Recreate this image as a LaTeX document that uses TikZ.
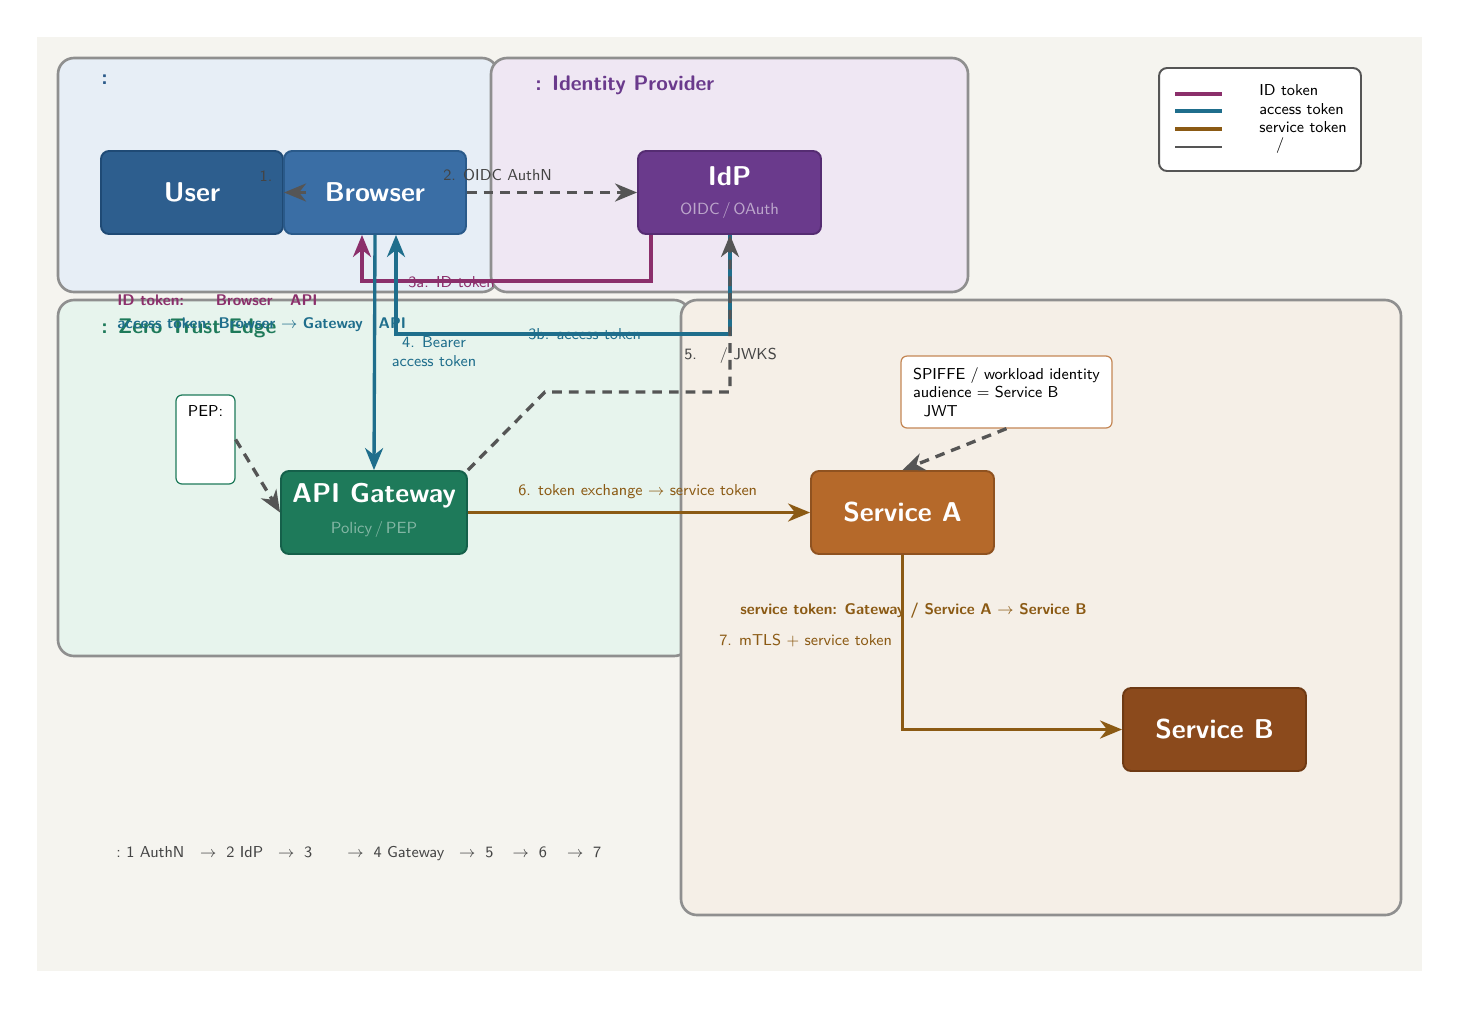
\documentclass[tikz,border=0pt]{standalone}
\usepackage{fontspec}
\usetikzlibrary{arrows.meta}
\definecolor{canvas}{HTML}{F5F4EF}
\definecolor{gUser}{HTML}{E7EEF6}
\definecolor{gIdp}{HTML}{EFE7F3}
\definecolor{gZt}{HTML}{E7F4ED}
\definecolor{gSvc}{HTML}{F5EFE7}
\definecolor{gBorder}{HTML}{8F8F8F}
\definecolor{cUser}{HTML}{2D5E8E}
\definecolor{cUserB}{HTML}{1F4A75}
\definecolor{cBrowser}{HTML}{3A6EA5}
\definecolor{cBrowserB}{HTML}{2A5A8A}
\definecolor{cIdp}{HTML}{6A3A8C}
\definecolor{cIdpB}{HTML}{552C72}
\definecolor{cGw}{HTML}{1E7A5A}
\definecolor{cGwB}{HTML}{15604A}
\definecolor{cSa}{HTML}{B5692A}
\definecolor{cSaB}{HTML}{8F5220}
\definecolor{cSb}{HTML}{8B4A1C}
\definecolor{cSbB}{HTML}{6E3A14}
\definecolor{tPurple}{HTML}{8B2F6B}
\definecolor{tTeal}{HTML}{1F6E8C}
\definecolor{tBrown}{HTML}{8B5A14}
\definecolor{tGray}{HTML}{555555}
\definecolor{txtGray}{HTML}{444444}
\definecolor{tUserTitle}{HTML}{2B5A8A}
\definecolor{tIdpTitle}{HTML}{6A3A8C}
\definecolor{tZtTitle}{HTML}{1E7A5A}
\newcommand{\smallfs}{\fontsize{9}{10.8}\selectfont}
\newcommand{\boldfs}{\fontsize{8.8}{10.6}\selectfont}
\newcommand{\bigfs}{\fontsize{15.5}{18}\selectfont}
\newcommand{\titlefs}{\fontsize{12}{14}\selectfont}
\tikzset{
  group/.style={draw=gBorder, line width=1.5pt, rounded corners=0.32cm},
  box/.style={rectangle, rounded corners=0.16cm, line width=1.1pt, minimum width=3.64cm, minimum height=1.66cm, text=white, font=\sffamily\bfseries\bigfs, inner sep=2pt},
  sub/.style={font=\sffamily\fontsize{9.2}{11}\selectfont, inner sep=0pt},
  note/.style={rectangle, rounded corners=0.12cm, fill=white, line width=0.7pt},
  lbl/.style={font=\sffamily\smallfs, inner sep=0pt},
  tip/.style={-{Stealth[length=0.44cm, width=0.36cm, inset=0.14cm]}},
  idline/.style={draw=tPurple, line width=1.9pt, tip, color=tPurple},
  acline/.style={draw=tTeal, line width=1.9pt, tip, color=tTeal},
  svline/.style={draw=tBrown, line width=1.9pt, tip, color=tBrown},
  grayline/.style={draw=tGray, line width=1.9pt, tip, color=tGray},
  dline/.style={draw=tGray, line width=1.9pt, tip, color=tGray, dash pattern=on 5.5pt off 4pt},
}
\begin{document}
\begin{tikzpicture}[x=0.02cm, y=-0.02cm]
\useasboundingbox (0,0) rectangle (1459,1009);
\fill[white] (0,0) rectangle (1459,1009);
\fill[canvas] (37,37) rectangle (1422,971);

% groups
\filldraw[group, fill=gUser] (58,58) rectangle (498,292);
\filldraw[group, fill=gIdp] (491,58) rectangle (968,292);
\filldraw[group, fill=gZt] (58,300) rectangle (690,656);
\filldraw[group, fill=gSvc] (681,300) rectangle (1401,915);

% group titles
\node[anchor=west, inner sep=0pt, text=tUserTitle, font=\sffamily\bfseries\titlefs] (tuser) at (101,80) {:};
\node[anchor=west, inner sep=0pt, text=tIdpTitle, font=\sffamily\bfseries\titlefs] (tidp) at (535,85) {: Identity Provider};
\node[anchor=west, inner sep=0pt, text=tZtTitle, font=\sffamily\bfseries\titlefs] (tzt) at (101,328) {: Zero Trust Edge};

% nodes
\node[box, fill=cUser, draw=cUserB] (user) at (192,192.5) {User};
\node[box, fill=cBrowser, draw=cBrowserB] (browser) at (375,192.5) {Browser};
\node[box, fill=cIdp, draw=cIdpB, minimum width=3.66cm] (idp) at (729.5,192.5) {};
\node[font=\sffamily\bfseries\bigfs, text=white, inner sep=0pt] (idpt) at (729.5,176) {IdP};
\node[sub, text=cIdp!45!white] (idps) at (729.5,210) {OIDC\,/\,OAuth};
\node[box, fill=cGw, draw=cGwB, minimum width=3.72cm] (gw) at (374,512.5) {};
\node[font=\sffamily\bfseries\bigfs, text=white, inner sep=0pt] (gwt) at (374,496) {API Gateway};
\node[sub, text=cGw!55!white] (gws) at (374,529) {Policy\,/\,PEP};
\node[box, fill=cSa, draw=cSaB, minimum width=3.66cm] (sa) at (902.5,512.5) {Service A};
\node[box, fill=cSb, draw=cSbB, minimum width=3.66cm] (sb) at (1214.5,729.5) {Service B};

% notes
\node[note, draw=cGw, minimum width=1.18cm, minimum height=1.78cm] (pep) at (205.5,439.5) {};
\node[lbl, anchor=north] (peptxt) at (205.5,405) {PEP:};
\node[note, draw=cSa!80!white, minimum width=4.22cm, minimum height=1.44cm, align=left, font=\sffamily\fontsize{9}{10.6}\selectfont, text width=3.74cm, inner sep=0pt] (spiffe) at (1006.5,392) {SPIFFE / workload identity\\audience $=$ Service B\\\hspace*{6pt}JWT};

% edges
\coordinate (c3a) at (651,281);
\coordinate (c3ab) at (362,281);
\draw[idline] (idp.south -| c3a) -- (c3a) -- (c3ab) -- (browser.south -| c3ab);
\coordinate (c3b) at (730,334);
\coordinate (c3bb) at (396,334);
\draw[acline] (idp.south -| c3b) -- (c3b) -- (c3bb) -- (browser.south -| c3bb);
\draw[acline] (browser.south) -- (gw.north);
\coordinate (c5a) at (545,392);
\coordinate (c5b) at (730,392);
\draw[dline] (gw.north east) -- (c5a) -- (c5b) -- (idp.south -| c5b);
\draw[grayline] ([xshift=0.46cm]browser.west) -- ([xshift=0.02cm]browser.west);
\draw[dline] (browser.east) -- (idp.west);
\draw[svline] (gw.east) -- (sa.west);
\draw[svline] (sa.south) |- (sb.west);
\draw[dline] (spiffe.south) -- (sa.north);
\draw[dline] (pep.east) -- (gw.west);

% edge labels
\node[lbl, text=txtGray] (l1) at (266,176) {1.};
\node[lbl, text=txtGray, anchor=west] (l2) at (443,175) {2. OIDC AuthN};
\node[lbl, text=tPurple, anchor=west] (l3a) at (408,282) {3a. ID token};
\node[lbl, text=tTeal, anchor=west] (l3b) at (528,334) {3b. access token};
\node[lbl, text=tTeal, align=center] (l4) at (434,352) {4. Bearer\\access token};
\node[lbl, text=txtGray, anchor=west] (l5) at (684,356) {5.\hspace{13pt}/ JWKS};
\node[lbl, text=tBrown, anchor=west] (l6) at (518,492) {6. token exchange $\rightarrow$ service token};
\node[lbl, text=tBrown, anchor=west] (l7) at (719,641) {7. mTLS $+$ service token};

% annotations
\node[lbl, text=tPurple, anchor=west, font=\sffamily\bfseries\boldfs] (aid) at (117,300) {ID token:\hspace{18pt}Browser\hspace{10pt}API};
\node[lbl, text=tTeal, anchor=west, font=\sffamily\bfseries\boldfs] (aac) at (117,325) {access token: Browser $\rightarrow$ Gateway\hspace{9pt}API};
\node[lbl, text=tBrown, anchor=west, font=\sffamily\bfseries\boldfs] (asv) at (740,611) {service token: Gateway / Service A $\rightarrow$ Service B};

% flow summary
\node[lbl, text=txtGray, anchor=west] (flow) at (116,854) {:\ 1 AuthN\hspace{9pt}$\rightarrow$\hspace{2.5pt} 2 IdP\hspace{8.5pt}$\rightarrow$\hspace{2.5pt} 3\hspace{20pt}$\rightarrow$\hspace{2.5pt} 4 Gateway\hspace{8.5pt}$\rightarrow$\hspace{2.5pt} 5\hspace{11pt}$\rightarrow$\hspace{2.5pt} 6\hspace{11.5pt}$\rightarrow$\hspace{2.5pt} 7};

% legend
\node[rectangle, draw=tGray, line width=1.1pt, rounded corners=0.16cm, fill=white, minimum width=4.04cm, minimum height=2.06cm] (legend) at (1260,119.5) {};
\coordinate (lg1a) at (1175,94); \coordinate (lg1b) at (1222,94);
\coordinate (lg2a) at (1175,111); \coordinate (lg2b) at (1222,111);
\coordinate (lg3a) at (1175,129); \coordinate (lg3b) at (1222,129);
\coordinate (lg4a) at (1175,147); \coordinate (lg4b) at (1222,147);
\draw[tPurple, line width=1.9pt] (lg1a) -- (lg1b);
\draw[tTeal, line width=1.9pt] (lg2a) -- (lg2b);
\draw[tBrown, line width=1.9pt] (lg3a) -- (lg3b);
\draw[tGray, line width=0.9pt] (lg4a) -- (lg4b);
\node[lbl, anchor=west] (lt1) at (1259,90) {ID token};
\node[lbl, anchor=west] (lt2) at (1259,109) {access token};
\node[lbl, anchor=west] (lt3) at (1259,127) {service token};
\node[lbl, anchor=west] (lt4) at (1259,146) {\hspace{9.5pt}/};
\end{tikzpicture}
\end{document}
